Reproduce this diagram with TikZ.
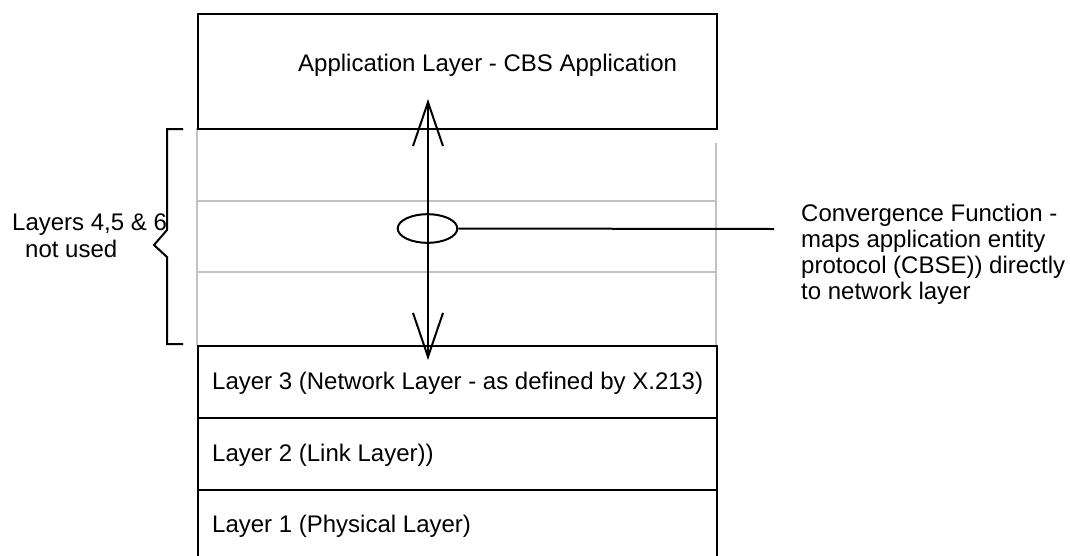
\documentclass[tikz,border=0pt]{standalone}
\usepackage{fontspec}
\setmainfont{Liberation Sans}
\usetikzlibrary{shapes.geometric,arrows.meta}
\begin{document}
\begin{tikzpicture}[x=1pt,y=-1pt,
  blk/.style={draw=black,line width=2pt},
  layerbox/.style={draw=black,line width=2pt,rectangle,minimum width=519pt,inner sep=0pt,anchor=north west},
  lbl/.style={anchor=base west,inner sep=0pt,font=\fontsize{24}{28}\selectfont},
  grayln/.style={draw=black!24,line width=2pt},
  barb/.style={line width=2pt,{Straight Barb[length=44pt,width=30pt]}-{Straight Barb[length=44pt,width=30pt]}},
]
\useasboundingbox (0,0) rectangle (1070,555);
\clip (0,0) rectangle (1070,555);
% unused layers 4-6 (gray)
\draw[grayln] (197,128) -- (197,345);
\draw[grayln] (716,143) -- (716,345);
\draw[grayln] (197,201) -- (716,201);
\draw[grayln] (197,272) -- (716,272);
% boxes
\node[layerbox,minimum height=115pt] (app) at (197,13) {};
\node[layerbox,minimum height=72pt] (l3) at (197,345) {};
\node[layerbox,minimum height=72pt] (l2) at (197,417) {};
\node[layerbox,minimum height=72pt] (l1) at (197,489) {};
% labels
\node[lbl] (apptxt) at (298,71) {Application Layer - CBS Application};
\node[lbl] (l3txt) at (212,389.5) {Layer 3 (Network Layer - as defined by X.213)};
\node[lbl] (l2txt) at (212,461) {Layer 2 (Link Layer))};
\node[lbl] (l1txt) at (212,532) {Layer 1 (Physical Layer)};
% arrow
\coordinate (atop) at (428,99);
\coordinate (abot) at (428,360);
\draw[barb] (atop) -- (abot);
% convergence function
\node[draw,ellipse,line width=2pt,minimum width=59.6pt,minimum height=28.6pt,inner sep=0pt] (cf) at (427.5,228.5) {};
\coordinate (cfend) at (774,229);
\draw[blk] (cf.east) -- (cfend);
\node[lbl] (cft1) at (801,221) {Convergence Function -};
\node[lbl] (cft2) at (801,247) {maps application entity};
\node[lbl] (cft3) at (801,273) {protocol (CBSE)) directly};
\node[lbl] (cft4) at (801,299) {to network layer};
% brace
\draw[blk] (183,129) -- (167,129) -- (167,230) -- (154,245) -- (167,257) -- (167,344) -- (183,344);
\node[lbl] (br1) at (12,230) {Layers 4,5 \& 6};
\node[lbl] (br2) at (25,257) {not used};
\end{tikzpicture}
\end{document}
